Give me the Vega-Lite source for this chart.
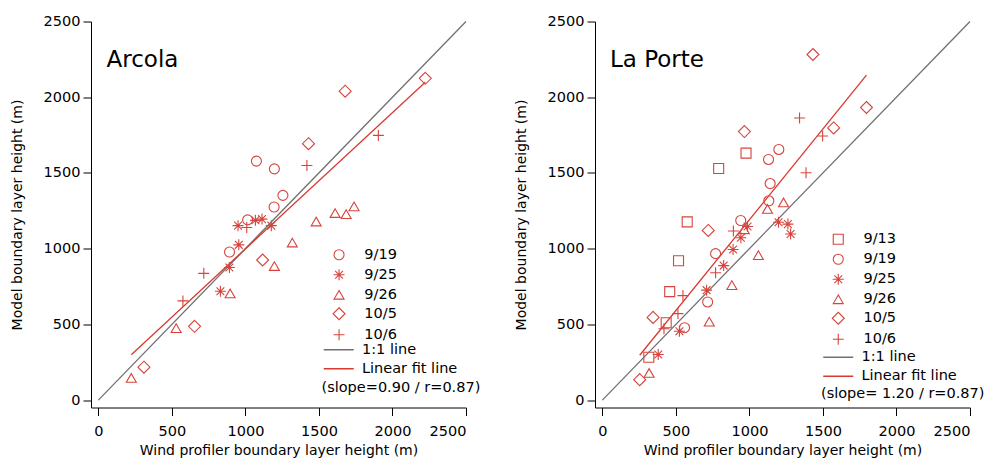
{
  "$schema": "https://vega.github.io/schema/vega-lite/v6.json",
  "background": "white",
  "padding": {"left": 10, "top": 13.5, "right": 5, "bottom": 0},
  "config": {
    "font": "DejaVu Sans",
    "view": {"stroke": null},
    "axis": {
      "grid": false,
      "domainColor": "#000000",
      "tickColor": "#000000",
      "labelColor": "#000000",
      "titleColor": "#000000",
      "labelFont": "DejaVu Sans",
      "titleFont": "DejaVu Sans",
      "labelFontSize": 14.5,
      "titleFontSize": 14,
      "titleFontWeight": "normal",
      "tickSize": 8,
      "domainWidth": 1,
      "tickWidth": 1,
      "format": "d"
    },
    "axisX": {"labelPadding": 9, "titlePadding": 5},
    "axisY": {"labelPadding": 3, "titlePadding": 18.5},
    "legend": {
      "orient": "none",
      "padding": 0,
      "labelFont": "DejaVu Sans",
      "labelFontSize": 14.5,
      "labelColor": "#000000",
      "rowPadding": 4,
      "symbolSize": 100,
      "titleFont": "DejaVu Sans",
      "titleFontSize": 14.5,
      "titleFontWeight": "normal",
      "titleColor": "#000000",
      "titleLimit": 400,
      "labelLimit": 300
    },
    "title": {
      "font": "DejaVu Sans",
      "fontSize": 23,
      "fontWeight": "normal",
      "color": "#000000",
      "anchor": "start",
      "frame": "group",
      "orient": "top",
      "baseline": "alphabetic"
    }
  },
  "datasets": {
    "arcola_points": [
      {"date": "9/19", "wind": 1075, "model": 1578},
      {"date": "9/19", "wind": 1197, "model": 1527},
      {"date": "9/19", "wind": 1255, "model": 1352},
      {"date": "9/19", "wind": 1195, "model": 1275},
      {"date": "9/19", "wind": 1015, "model": 1190},
      {"date": "9/19", "wind": 892, "model": 978},
      {"date": "9/25", "wind": 950, "model": 1152},
      {"date": "9/25", "wind": 1068, "model": 1187},
      {"date": "9/25", "wind": 1113, "model": 1195},
      {"date": "9/25", "wind": 1176, "model": 1152},
      {"date": "9/25", "wind": 955, "model": 1025},
      {"date": "9/25", "wind": 891, "model": 876},
      {"date": "9/25", "wind": 830, "model": 719},
      {"date": "9/26", "wind": 1481, "model": 1179},
      {"date": "9/26", "wind": 1610, "model": 1235},
      {"date": "9/26", "wind": 1685, "model": 1228},
      {"date": "9/26", "wind": 1739, "model": 1279},
      {"date": "9/26", "wind": 1319, "model": 1040},
      {"date": "9/26", "wind": 1197, "model": 885},
      {"date": "9/26", "wind": 896, "model": 704},
      {"date": "9/26", "wind": 529, "model": 475},
      {"date": "9/26", "wind": 224, "model": 146},
      {"date": "10/5", "wind": 2223, "model": 2125},
      {"date": "10/5", "wind": 1678, "model": 2040},
      {"date": "10/5", "wind": 1429, "model": 1693},
      {"date": "10/5", "wind": 1117, "model": 925},
      {"date": "10/5", "wind": 654, "model": 487},
      {"date": "10/5", "wind": 310, "model": 217},
      {"date": "10/6", "wind": 1904, "model": 1748},
      {"date": "10/6", "wind": 1418, "model": 1549},
      {"date": "10/6", "wind": 1009, "model": 1140},
      {"date": "10/6", "wind": 717, "model": 837},
      {"date": "10/6", "wind": 575, "model": 655}
    ],
    "arcola_lines": [
      {"series": "1:1 line", "wind": 0, "model": 0},
      {"series": "1:1 line", "wind": 2500, "model": 2500},
      {"series": "Linear fit line", "wind": 224, "model": 300},
      {"series": "Linear fit line", "wind": 2223, "model": 2099}
    ],
    "laporte_points": [
      {"date": "9/13", "wind": 977, "model": 1631},
      {"date": "9/13", "wind": 791, "model": 1529},
      {"date": "9/13", "wind": 577, "model": 1177},
      {"date": "9/13", "wind": 518, "model": 920},
      {"date": "9/13", "wind": 458, "model": 716},
      {"date": "9/13", "wind": 434, "model": 511},
      {"date": "9/13", "wind": 316, "model": 283},
      {"date": "9/19", "wind": 1200, "model": 1655},
      {"date": "9/19", "wind": 1130, "model": 1589},
      {"date": "9/19", "wind": 1141, "model": 1430},
      {"date": "9/19", "wind": 1132, "model": 1316},
      {"date": "9/19", "wind": 941, "model": 1186},
      {"date": "9/19", "wind": 770, "model": 967},
      {"date": "9/19", "wind": 716, "model": 648},
      {"date": "9/19", "wind": 559, "model": 478},
      {"date": "9/25", "wind": 987, "model": 1146},
      {"date": "9/25", "wind": 1198, "model": 1174},
      {"date": "9/25", "wind": 1262, "model": 1162},
      {"date": "9/25", "wind": 1280, "model": 1097},
      {"date": "9/25", "wind": 942, "model": 1072},
      {"date": "9/25", "wind": 889, "model": 994},
      {"date": "9/25", "wind": 825, "model": 888},
      {"date": "9/25", "wind": 709, "model": 726},
      {"date": "9/25", "wind": 524, "model": 455},
      {"date": "9/25", "wind": 380, "model": 301},
      {"date": "9/26", "wind": 1123, "model": 1262},
      {"date": "9/26", "wind": 1232, "model": 1305},
      {"date": "9/26", "wind": 965, "model": 1128},
      {"date": "9/26", "wind": 1061, "model": 957},
      {"date": "9/26", "wind": 881, "model": 759},
      {"date": "9/26", "wind": 727, "model": 518},
      {"date": "9/26", "wind": 318, "model": 179},
      {"date": "10/5", "wind": 1432, "model": 2282},
      {"date": "10/5", "wind": 1796, "model": 1932},
      {"date": "10/5", "wind": 1573, "model": 1797},
      {"date": "10/5", "wind": 966, "model": 1773},
      {"date": "10/5", "wind": 720, "model": 1120},
      {"date": "10/5", "wind": 345, "model": 546},
      {"date": "10/5", "wind": 254, "model": 135},
      {"date": "10/6", "wind": 1341, "model": 1863},
      {"date": "10/6", "wind": 1498, "model": 1744},
      {"date": "10/6", "wind": 1385, "model": 1501},
      {"date": "10/6", "wind": 891, "model": 1117},
      {"date": "10/6", "wind": 770, "model": 841},
      {"date": "10/6", "wind": 548, "model": 690},
      {"date": "10/6", "wind": 514, "model": 571},
      {"date": "10/6", "wind": 419, "model": 471}
    ],
    "laporte_lines": [
      {"series": "1:1 line", "wind": 0, "model": 0},
      {"series": "1:1 line", "wind": 2500, "model": 2500},
      {"series": "Linear fit line", "wind": 254, "model": 296},
      {"series": "Linear fit line", "wind": 1796, "model": 2146}
    ]
  },
  "bounds": "flush",
  "spacing": 129,
  "resolve": {"scale": {"shape": "independent", "color": "independent"}},
  "hconcat": [
    {
      "width": 375,
      "height": 386,
      "title": {"text": "Arcola", "dx": 15.5, "offset": -58},
      "layer": [
        {
          "data": {"name": "arcola_lines"},
          "mark": {"type": "line", "strokeWidth": 1.3},
          "encoding": {
            "x": {
              "field": "wind", "type": "quantitative",
              "scale": {"domain": [-50, 2500], "nice": false, "zero": false},
              "axis": {"title": "Wind profiler boundary layer height (m)", "values": [0, 500, 1000, 1500, 2000, 2500]}
            },
            "y": {
              "field": "model", "type": "quantitative",
              "scale": {"domain": [-49, 2500], "nice": false, "zero": false},
              "axis": {"title": "Model boundary layer height (m)", "values": [0, 500, 1000, 1500, 2000, 2500]}
            },
            "color": {
              "field": "series", "type": "nominal",
              "scale": {"domain": ["1:1 line", "Linear fit line"], "range": ["#707070", "#d8392f"]},
              "legend": {
                "title": "(slope=0.90 / r=0.87)",
                "titleOrient": "bottom",
                "titleAnchor": "start",
                "titlePadding": 5,
                "symbolType": "M-3,0H3",
                "symbolStrokeWidth": 1.5,
                "symbolOffset": 10,
                "labelOffset": 16,
                "legendX": 230.5,
                "legendY": 321
              }
            }
          }
        },
        {
          "data": {"name": "arcola_points"},
          "mark": {"type": "point", "filled": false, "size": 100, "strokeWidth": 1.1, "color": "#d6443d", "opacity": 1},
          "encoding": {
            "x": {"field": "wind", "type": "quantitative"},
            "y": {"field": "model", "type": "quantitative"},
            "shape": {
              "field": "date", "type": "nominal",
              "scale": {
                "domain": ["9/19", "9/25", "9/26", "10/5", "10/6"],
                "range": [
                  "circle",
                  "M-1.1,0H1.1M0,-1.1V1.1M-0.78,-0.78L0.78,0.78M-0.78,0.78L0.78,-0.78",
                  "triangle-up",
                  "M0,-1.2L1.2,0L0,1.2L-1.2,0Z",
                  "M-1.1,0H1.1M0,-1.1V1.1"
                ]
              },
              "legend": {
                "title": null,
                "symbolStrokeColor": "#d6443d",
                "symbolFillColor": "transparent",
                "symbolStrokeWidth": 1.1,
                "labelOffset": 18,
                "legendX": 240.8,
                "legendY": 226
              }
            }
          }
        }
      ]
    },
    {
      "width": 375,
      "height": 386,
      "title": {"text": "La Porte", "dx": 15, "offset": -58},
      "layer": [
        {
          "data": {"name": "laporte_lines"},
          "mark": {"type": "line", "strokeWidth": 1.3},
          "encoding": {
            "x": {
              "field": "wind", "type": "quantitative",
              "scale": {"domain": [-50, 2500], "nice": false, "zero": false},
              "axis": {"title": "Wind profiler boundary layer height (m)", "values": [0, 500, 1000, 1500, 2000, 2500]}
            },
            "y": {
              "field": "model", "type": "quantitative",
              "scale": {"domain": [-49, 2500], "nice": false, "zero": false},
              "axis": {"title": "Model boundary layer height (m)", "values": [0, 500, 1000, 1500, 2000, 2500]}
            },
            "color": {
              "field": "series", "type": "nominal",
              "scale": {"domain": ["1:1 line", "Linear fit line"], "range": ["#707070", "#d8392f"]},
              "legend": {
                "title": "(slope= 1.20 / r=0.87)",
                "titleOrient": "bottom",
                "titleAnchor": "start",
                "titlePadding": 4,
                "symbolType": "M-3,0H3",
                "symbolStrokeWidth": 1.5,
                "symbolOffset": 10,
                "labelOffset": 16,
                "legendX": 226,
                "legendY": 328.5
              }
            }
          }
        },
        {
          "data": {"name": "laporte_points"},
          "mark": {"type": "point", "filled": false, "size": 100, "strokeWidth": 1.1, "color": "#d6443d", "opacity": 1},
          "encoding": {
            "x": {"field": "wind", "type": "quantitative"},
            "y": {"field": "model", "type": "quantitative"},
            "shape": {
              "field": "date", "type": "nominal",
              "scale": {
                "domain": ["9/13", "9/19", "9/25", "9/26", "10/5", "10/6"],
                "range": [
                  "square",
                  "circle",
                  "M-1.1,0H1.1M0,-1.1V1.1M-0.78,-0.78L0.78,0.78M-0.78,0.78L0.78,-0.78",
                  "triangle-up",
                  "M0,-1.2L1.2,0L0,1.2L-1.2,0Z",
                  "M-1.1,0H1.1M0,-1.1V1.1"
                ]
              },
              "legend": {
                "title": null,
                "symbolStrokeColor": "#d6443d",
                "symbolFillColor": "transparent",
                "symbolStrokeWidth": 1.1,
                "labelOffset": 18,
                "legendX": 236,
                "legendY": 210.5
              }
            }
          }
        }
      ]
    }
  ]
}
